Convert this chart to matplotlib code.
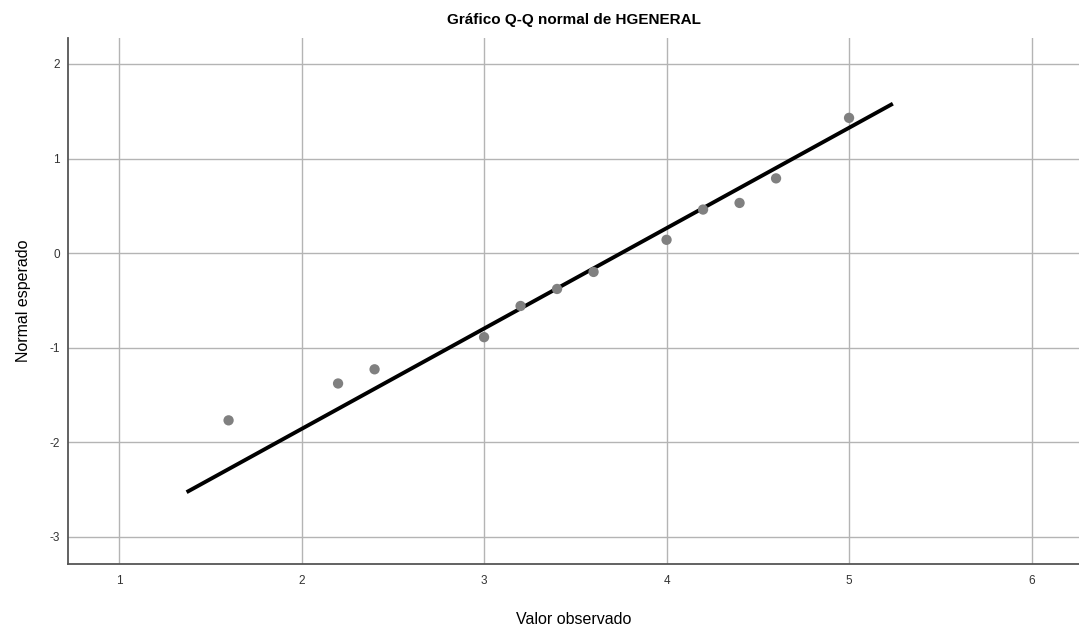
import matplotlib
matplotlib.use("Agg")
import matplotlib.pyplot as plt

obs = [1.6, 2.2, 2.4, 3.0, 3.2, 3.4, 3.6, 4.0, 4.2, 4.4, 4.6, 5.0]
expected = [-1.77, -1.38, -1.23, -0.89, -0.56, -0.38, -0.20, 0.14, 0.46, 0.53, 0.79, 1.43]

# reference line end points
line_x = [1.37, 5.24]
line_y = [-2.53, 1.58]

xticks = [1, 2, 3, 4, 5, 6]
yticks = [-3, -2, -1, 0, 1, 2]

plt.rcParams['font.family'] = ['Liberation Sans', 'DejaVu Sans']
plt.rcParams['axes.unicode_minus'] = False

fig = plt.figure(figsize=(10.79, 6.29), dpi=100)
ax = fig.add_axes([0.063, 0.1033, 0.937, 0.8363])

ax.set_xlim(0.72, 6.26)
ax.set_ylim(-3.29, 2.275)
ax.set_xticks(xticks)
ax.set_yticks(yticks)
ax.grid(True, color='#b4b4b4', linewidth=1.0)
ax.set_axisbelow(True)

ax.plot(line_x, line_y, color='black', linewidth=2.8, solid_capstyle='butt', zorder=3)
ax.scatter(obs, expected, s=55, color='#808080', edgecolors='none', zorder=4)

for side in ['top', 'right']:
    ax.spines[side].set_visible(False)
for side in ['left', 'bottom']:
    ax.spines[side].set_color('#555555')
    ax.spines[side].set_linewidth(1.3)

ax.tick_params(length=0, labelsize=8.5, colors='#333333')
ax.tick_params(axis='x', pad=8)
ax.tick_params(axis='y', pad=6)

ax.set_title('Gráfico Q-Q normal de HGENERAL', fontsize=11, fontweight='bold', pad=10)
ax.set_xlabel('Valor observado', fontsize=11.5, labelpad=18)
ax.set_ylabel('Normal esperado', fontsize=11.5, labelpad=13)

fig.savefig('out.png', dpi=100)
